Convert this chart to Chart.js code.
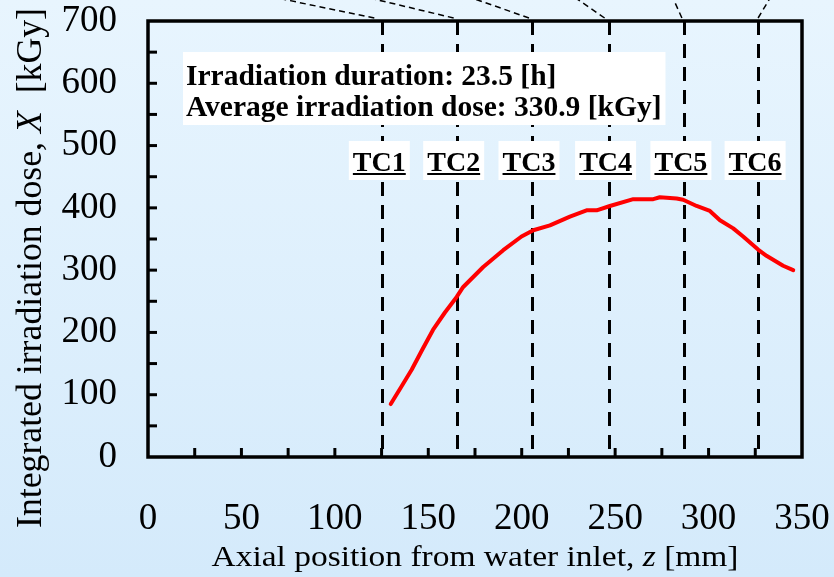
<!DOCTYPE html>
<html>
<head>
<meta charset="utf-8">
<script src="https://cdn.jsdelivr.net/npm/chart.js@4.4.1/dist/chart.umd.min.js"></script>
<style>
  html, body { margin: 0; padding: 0; }
  body { width: 834px; height: 577px; background: linear-gradient(#e8f5fe, #d4eafb); overflow: hidden; }
</style>
</head>
<body>
<canvas id="doseChart" width="834" height="577"></canvas>
<script>
// axial position z [mm] and integrated dose X [kGy]
const zPos = [129.9, 135.4, 141.1, 146.9, 152.5, 158.9, 165.2, 168.7, 179.4, 190.1, 199.9, 206.2, 215.1, 225.8, 234.7, 240.1, 247.2, 259.7, 270.4, 273.9, 282.9, 286.4, 293.6, 300.7, 306.1, 313.2, 318.5, 326.5, 331.0, 339.9, 345.3];
const dose = [85, 112, 140, 173, 204, 232, 257, 273, 305, 332, 354, 364, 372, 386, 396, 396, 403, 414, 414, 417, 415, 413, 403, 395, 380, 367, 354, 333, 323, 307, 300];

// thermocouple positions [mm]
const tcNames = ['TC1', 'TC2', 'TC3', 'TC4', 'TC5', 'TC6'];
const tcPos = [125.4, 165.2, 205.5, 246.5, 286.8, 326.5];

const xTickLabels = [0, 50, 100, 150, 200, 250, 300, 350];
const yTickLabels = [0, 100, 200, 300, 400, 500, 600, 700];

const infoLines = ['Irradiation duration: 23.5 [h]', 'Average irradiation dose: 330.9 [kGy]'];

const SERIF = '"Liberation Serif", "Times New Roman", serif';

// draws text made of plain/italic parts, centred at 0 and stretched to a given length
function drawParts(ctx, parts, size, length) {
  let total = 0;
  parts.forEach(p => { ctx.font = p[1] + size + 'px ' + SERIF; total += ctx.measureText(p[0]).width; });
  ctx.scale(length / total, 1);
  let cx = -total / 2;
  parts.forEach(p => {
    ctx.font = p[1] + size + 'px ' + SERIF;
    ctx.fillText(p[0], cx, 0);
    cx += ctx.measureText(p[0]).width;
  });
}

const decorations = {
  id: 'decorations',
  beforeDatasetsDraw(chart) {
    const { ctx, chartArea: a, scales: { x } } = chart;
    ctx.save();
    // vertical thermocouple lines
    ctx.strokeStyle = '#000';
    ctx.lineWidth = 3;
    ctx.setLineDash([14, 9]);
    tcPos.forEach(v => {
      const px = Math.round(x.getPixelForValue(v)) + 0.5;
      ctx.beginPath();
      ctx.moveTo(px, a.top);
      ctx.lineTo(px, a.bottom);
      ctx.stroke();
    });
    // leader lines running off the top
    const botDx = [-8, -3, -3, -4, -2, 0];
    const topDx = [-105, -87, -60, -33, -11, 12];
    ctx.lineWidth = 1.5;
    ctx.setLineDash([6, 4]);
    tcPos.forEach((v, i) => {
      const px = x.getPixelForValue(v);
      ctx.beginPath();
      ctx.moveTo(px + botDx[i], a.top - 3);
      ctx.lineTo(px + topDx[i], -2);
      ctx.stroke();
    });
    ctx.restore();
  },
  afterDatasetsDraw(chart) {
    const { ctx, chartArea: a, scales: { x, y } } = chart;
    ctx.save();
    ctx.setLineDash([]);
    ctx.strokeStyle = '#000';

    // inward ticks
    ctx.lineWidth = 3;
    x.ticks.forEach(t => {
      if (t.value <= x.min || t.value >= x.max) return;
      const px = x.getPixelForValue(t.value);
      ctx.beginPath();
      ctx.moveTo(px, a.bottom);
      ctx.lineTo(px, a.bottom - 9);
      ctx.stroke();
    });
    y.ticks.forEach(t => {
      if (t.value <= y.min || t.value >= y.max) return;
      const py = y.getPixelForValue(t.value);
      ctx.beginPath();
      ctx.moveTo(a.left, py);
      ctx.lineTo(a.left + 9, py);
      ctx.stroke();
    });

    // frame
    ctx.lineWidth = 3.5;
    ctx.lineJoin = 'miter';
    ctx.strokeRect(a.left, a.top, a.right - a.left, a.bottom - a.top);

    // info box
    ctx.font = 'bold 29.5px ' + SERIF;
    ctx.textBaseline = 'alphabetic';
    ctx.textAlign = 'left';
    const w = Math.max(...infoLines.map(s => ctx.measureText(s).width));
    const bx = a.left + 35, by = a.top + 31;
    ctx.fillStyle = '#fff';
    ctx.fillRect(bx, by, w + 7, 73);
    ctx.fillStyle = '#000';
    infoLines.forEach((s, i) => ctx.fillText(s, bx + 3, by + 33 + i * 31));

    // thermocouple labels
    ctx.font = 'bold 28px ' + SERIF;
    ctx.textAlign = 'center';
    tcNames.forEach((name, i) => {
      const cx = x.getPixelForValue(tcPos[i]) - 3;
      const tw = ctx.measureText(name).width;
      ctx.fillStyle = '#fff';
      ctx.fillRect(cx - 30.5, 141, 61, 39);
      ctx.fillStyle = '#000';
      ctx.fillText(name, cx, 171);
      ctx.fillRect(cx - tw / 2, 173, tw, 2);
    });
    ctx.restore();
  },
  afterDraw(chart) {
    const { ctx, chartArea: a } = chart;
    ctx.fillStyle = '#000';
    ctx.textBaseline = 'alphabetic';
    ctx.textAlign = 'left';

    // x title with italic z
    ctx.save();
    ctx.translate((a.left + a.right) / 2, 566);
    drawParts(ctx, [['Axial position from water inlet, ', ''], ['z', 'italic '], [' [mm]', '']], 30, 527);
    ctx.restore();

    // y title with italic X, rotated
    ctx.save();
    ctx.translate(41, 268);
    ctx.rotate(-Math.PI / 2);
    drawParts(ctx, [['Integrated irradiation dose, ', ''], ['X', 'italic '], ['  [kGy]', '']], 35, 520);
    ctx.restore();
  }
};

new Chart(document.getElementById('doseChart'), {
  type: 'scatter',
  data: {
    datasets: [{
      data: zPos.map((z, i) => ({ x: z, y: dose[i] })),
      showLine: true,
      borderColor: '#ff0000',
      borderWidth: 4,
      borderJoinStyle: 'round',
      borderCapStyle: 'round',
      pointRadius: 0,
      tension: 0
    }]
  },
  options: {
    responsive: false,
    animation: false,
    devicePixelRatio: 1,
    layout: { padding: { top: 21, right: 32, left: 0, bottom: 0 } },
    plugins: { legend: { display: false }, tooltip: { enabled: false } },
    scales: {
      x: {
        type: 'linear', min: 0, max: 350,
        grid: { display: false, drawTicks: false },
        border: { display: false },
        afterFit: s => { s.height = 120; s.paddingLeft = 0; s.paddingRight = 0; },
        ticks: {
          stepSize: 25, autoSkip: false, maxRotation: 0, padding: 44,
          color: '#000', font: { family: SERIF, size: 37, lineHeight: 1 },
          callback: v => xTickLabels.includes(v) ? String(v) : ''
        }
      },
      y: {
        type: 'linear', min: 0, max: 700,
        grid: { display: false, drawTicks: false },
        border: { display: false },
        afterFit: s => { s.width = 148; s.paddingTop = 0; s.paddingBottom = 0; },
        ticks: {
          stepSize: 50, autoSkip: false, padding: 31,
          color: '#000', font: { family: SERIF, size: 37, lineHeight: 1 },
          callback: v => yTickLabels.includes(v) ? String(v) : ''
        }
      }
    }
  },
  plugins: [decorations]
});
</script>
</body>
</html>
